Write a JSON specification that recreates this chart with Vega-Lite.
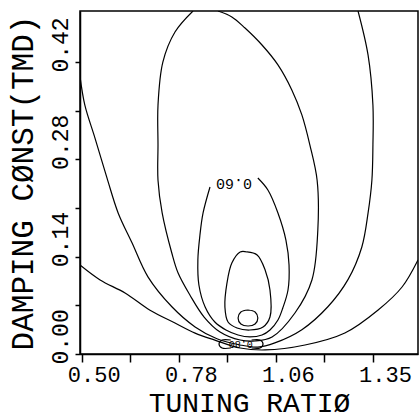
{
  "$schema": "https://vega.github.io/schema/vega-lite/v6.json",
  "width": 338,
  "height": 343,
  "autosize": {"type": "none"},
  "padding": {"left": 80, "top": 11, "right": 2, "bottom": 64},
  "background": "white",
  "config": {
    "view": {"stroke": "black", "strokeWidth": 1.5},
    "font": "Liberation Mono"
  },
  "datasets": {
    "contours": [
      {"c":"A","i":0,"x":0.495,"y":0.399},{"c":"A","i":1,"x":0.509,"y":0.358},{"c":"A","i":2,"x":0.538,"y":0.311},{"c":"A","i":3,"x":0.573,"y":0.253},{"c":"A","i":4,"x":0.605,"y":0.203},{"c":"A","i":5,"x":0.645,"y":0.160},{"c":"A","i":6,"x":0.691,"y":0.111},{"c":"A","i":7,"x":0.760,"y":0.068},{"c":"A","i":8,"x":0.827,"y":0.039},{"c":"A","i":9,"x":0.890,"y":0.022},{"c":"A","i":10,"x":0.957,"y":0.013},{"c":"A","i":11,"x":1.008,"y":0.010},{"c":"A","i":12,"x":1.057,"y":0.016},{"c":"A","i":13,"x":1.135,"y":0.035},{"c":"A","i":14,"x":1.210,"y":0.068},{"c":"A","i":15,"x":1.268,"y":0.107},{"c":"A","i":16,"x":1.308,"y":0.154},{"c":"A","i":17,"x":1.326,"y":0.203},{"c":"A","i":18,"x":1.337,"y":0.250},{"c":"A","i":19,"x":1.340,"y":0.301},{"c":"A","i":20,"x":1.340,"y":0.358},{"c":"A","i":21,"x":1.326,"y":0.430},{"c":"A","i":22,"x":1.297,"y":0.4935},
      {"c":"B","i":0,"x":0.495,"y":0.128},{"c":"B","i":1,"x":0.553,"y":0.1065},{"c":"B","i":2,"x":0.625,"y":0.0878},{"c":"B","i":3,"x":0.697,"y":0.063},{"c":"B","i":4,"x":0.769,"y":0.0446},{"c":"B","i":5,"x":0.827,"y":0.030},{"c":"B","i":6,"x":0.884,"y":0.020},{"c":"B","i":7,"x":0.957,"y":0.0086},{"c":"B","i":8,"x":1.029,"y":0.0058},{"c":"B","i":9,"x":1.144,"y":0.0129},{"c":"B","i":10,"x":1.259,"y":0.0302},{"c":"B","i":11,"x":1.355,"y":0.0633},{"c":"B","i":12,"x":1.424,"y":0.0964},{"c":"B","i":13,"x":1.470,"y":0.1353},
      {"c":"E4","i":0,"x":0.821,"y":0.4935},{"c":"E4","i":1,"x":0.769,"y":0.4633},{"c":"E4","i":2,"x":0.734,"y":0.420},{"c":"E4","i":3,"x":0.720,"y":0.358},{"c":"E4","i":4,"x":0.720,"y":0.301},{"c":"E4","i":5,"x":0.720,"y":0.250},{"c":"E4","i":6,"x":0.732,"y":0.203},{"c":"E4","i":7,"x":0.760,"y":0.145},{"c":"E4","i":8,"x":0.778,"y":0.1165},{"c":"E4","i":9,"x":0.812,"y":0.0849},{"c":"E4","i":10,"x":0.853,"y":0.0532},{"c":"E4","i":11,"x":0.899,"y":0.0317},{"c":"E4","i":12,"x":0.957,"y":0.0201},{"c":"E4","i":13,"x":1.000,"y":0.0187},{"c":"E4","i":14,"x":1.049,"y":0.0245},{"c":"E4","i":15,"x":1.115,"y":0.059},{"c":"E4","i":16,"x":1.164,"y":0.1065},{"c":"E4","i":17,"x":1.181,"y":0.178},{"c":"E4","i":18,"x":1.179,"y":0.250},{"c":"E4","i":19,"x":1.158,"y":0.301},{"c":"E4","i":20,"x":1.135,"y":0.344},{"c":"E4","i":21,"x":1.106,"y":0.380},{"c":"E4","i":22,"x":1.066,"y":0.416},{"c":"E4","i":23,"x":1.020,"y":0.4446},{"c":"E4","i":24,"x":0.971,"y":0.469},{"c":"E4","i":25,"x":0.933,"y":0.485},{"c":"E4","i":26,"x":0.893,"y":0.4935},
      {"c":"E6","i":0,"x":1.008,"y":0.2532},{"c":"E6","i":1,"x":1.037,"y":0.236},{"c":"E6","i":2,"x":1.066,"y":0.2029},{"c":"E6","i":3,"x":1.089,"y":0.164},{"c":"E6","i":4,"x":1.098,"y":0.1281},{"c":"E6","i":5,"x":1.095,"y":0.0921},{"c":"E6","i":6,"x":1.080,"y":0.0662},{"c":"E6","i":7,"x":1.066,"y":0.0489},{"c":"E6","i":8,"x":1.043,"y":0.0345},{"c":"E6","i":9,"x":1.020,"y":0.0273},{"c":"E6","i":10,"x":0.985,"y":0.0245},{"c":"E6","i":11,"x":0.951,"y":0.0273},{"c":"E6","i":12,"x":0.916,"y":0.0345},{"c":"E6","i":13,"x":0.884,"y":0.046},{"c":"E6","i":14,"x":0.856,"y":0.0676},{"c":"E6","i":15,"x":0.838,"y":0.0993},{"c":"E6","i":16,"x":0.835,"y":0.1353},{"c":"E6","i":17,"x":0.841,"y":0.1712},{"c":"E6","i":18,"x":0.850,"y":0.2029},{"c":"E6","i":19,"x":0.870,"y":0.2403},
      {"c":"E7","i":0,"x":0.977,"y":0.1468},{"c":"E7","i":1,"x":1.006,"y":0.1424},{"c":"E7","i":2,"x":1.029,"y":0.1209},{"c":"E7","i":3,"x":1.043,"y":0.0921},{"c":"E7","i":4,"x":1.043,"y":0.0532},{"c":"E7","i":5,"x":1.023,"y":0.0388},{"c":"E7","i":6,"x":0.985,"y":0.0345},{"c":"E7","i":7,"x":0.948,"y":0.0374},{"c":"E7","i":8,"x":0.922,"y":0.046},{"c":"E7","i":9,"x":0.913,"y":0.0676},{"c":"E7","i":10,"x":0.919,"y":0.1022},{"c":"E7","i":11,"x":0.933,"y":0.1309},{"c":"E7","i":12,"x":0.957,"y":0.1468},{"c":"E7","i":13,"x":0.977,"y":0.1468},
      {"c":"E8","i":0,"x":0.980,"y":0.0633},{"c":"E8","i":1,"x":1.000,"y":0.0604},{"c":"E8","i":2,"x":1.008,"y":0.0518},{"c":"E8","i":3,"x":1.000,"y":0.0432},{"c":"E8","i":4,"x":0.980,"y":0.0403},{"c":"E8","i":5,"x":0.959,"y":0.0432},{"c":"E8","i":6,"x":0.951,"y":0.0518},{"c":"E8","i":7,"x":0.959,"y":0.0604},{"c":"E8","i":8,"x":0.980,"y":0.0633},
      {"c":"E9L","i":0,"x":0.930,"y":0.0201},{"c":"E9L","i":1,"x":0.905,"y":0.0201},{"c":"E9L","i":2,"x":0.896,"y":0.0144},{"c":"E9L","i":3,"x":0.905,"y":0.0086},{"c":"E9L","i":4,"x":0.930,"y":0.0086},
      {"c":"E9R","i":0,"x":0.990,"y":0.0201},{"c":"E9R","i":1,"x":1.014,"y":0.0201},{"c":"E9R","i":2,"x":1.023,"y":0.0144},{"c":"E9R","i":3,"x":1.014,"y":0.0086},{"c":"E9R","i":4,"x":0.990,"y":0.0086}
    ],
    "bigLabels": [{"t":"0.60","x":0.939,"y":0.2446}],
    "smallLabels": [{"t":"0.80","x":0.959,"y":0.0144}]
  },
  "layer": [
    {
      "data": {"name": "contours"},
      "mark": {"type": "line", "color": "black", "strokeWidth": 1.2, "clip": true, "interpolate": "catmull-rom"},
      "encoding": {
        "x": {
          "field": "x", "type": "quantitative",
          "scale": {"domain": [0.495, 1.47], "nice": false, "zero": false},
          "axis": {
            "values": [0.5, 0.64, 0.78, 0.92, 1.06, 1.2, 1.34],
            "labelExpr": "indexof(['0.50','0.78','1.06'], format(datum.value,'.2f')) >= 0 ? format(datum.value,'.2f') : (format(datum.value,'.2f') == '1.34' ? '1.35' : '')",
            "grid": false, "tickSize": 8, "tickWidth": 1.5, "tickColor": "black",
            "domainColor": "black", "domainWidth": 1.5,
            "labelFont": "Liberation Mono", "labelFontSize": 22, "labelColor": "black",
            "labelOffset": 12, "labelPadding": 2, "labelBaseline": "top",
            "labelOverlap": false, "labelFlush": false,
            "title": "TUNING RATIØ", "titleFont": "Liberation Mono", "titleFontSize": 28,
            "titleFontWeight": "normal", "titleColor": "black",
            "titleBaseline": "alphabetic", "titleY": 57
          }
        },
        "y": {
          "field": "y", "type": "quantitative",
          "scale": {"domain": [0, 0.4935], "nice": false, "zero": false},
          "axis": {
            "values": [0, 0.07, 0.14, 0.21, 0.28, 0.35, 0.42],
            "labelExpr": "indexof(['0.00','0.14','0.28','0.42'], format(datum.value,'.2f')) >= 0 ? format(datum.value,'.2f') : ''",
            "grid": false, "tickSize": 5, "tickWidth": 1.5, "tickColor": "black",
            "domainColor": "black", "domainWidth": 1.5,
            "labelFont": "Liberation Mono", "labelFontSize": 23, "labelColor": "black",
            "labelAngle": 270, "labelAlign": "left", "labelBaseline": "alphabetic",
            "labelPadding": 8, "labelOffset": 10,
            "labelOverlap": false, "labelFlush": false,
            "title": "DAMPING CØNST(TMD)", "titleFont": "Liberation Mono", "titleFontSize": 31,
            "titleFontWeight": "normal", "titleColor": "black",
            "titleAngle": 270, "titleBaseline": "alphabetic", "titleAlign": "center",
            "titleX": -48, "titleY": 171.5
          }
        },
        "detail": {"field": "c", "type": "nominal"},
        "order": {"field": "i", "type": "quantitative"}
      }
    },
    {
      "data": {"name": "bigLabels"},
      "mark": {"type": "text", "angle": 180, "font": "Liberation Mono", "fontSize": 15, "color": "black"},
      "encoding": {
        "x": {"field": "x", "type": "quantitative"},
        "y": {"field": "y", "type": "quantitative"},
        "text": {"field": "t"}
      }
    },
    {
      "data": {"name": "smallLabels"},
      "mark": {"type": "text", "angle": 180, "font": "Liberation Mono", "fontSize": 10, "color": "black"},
      "encoding": {
        "x": {"field": "x", "type": "quantitative"},
        "y": {"field": "y", "type": "quantitative"},
        "text": {"field": "t"}
      }
    }
  ]
}
